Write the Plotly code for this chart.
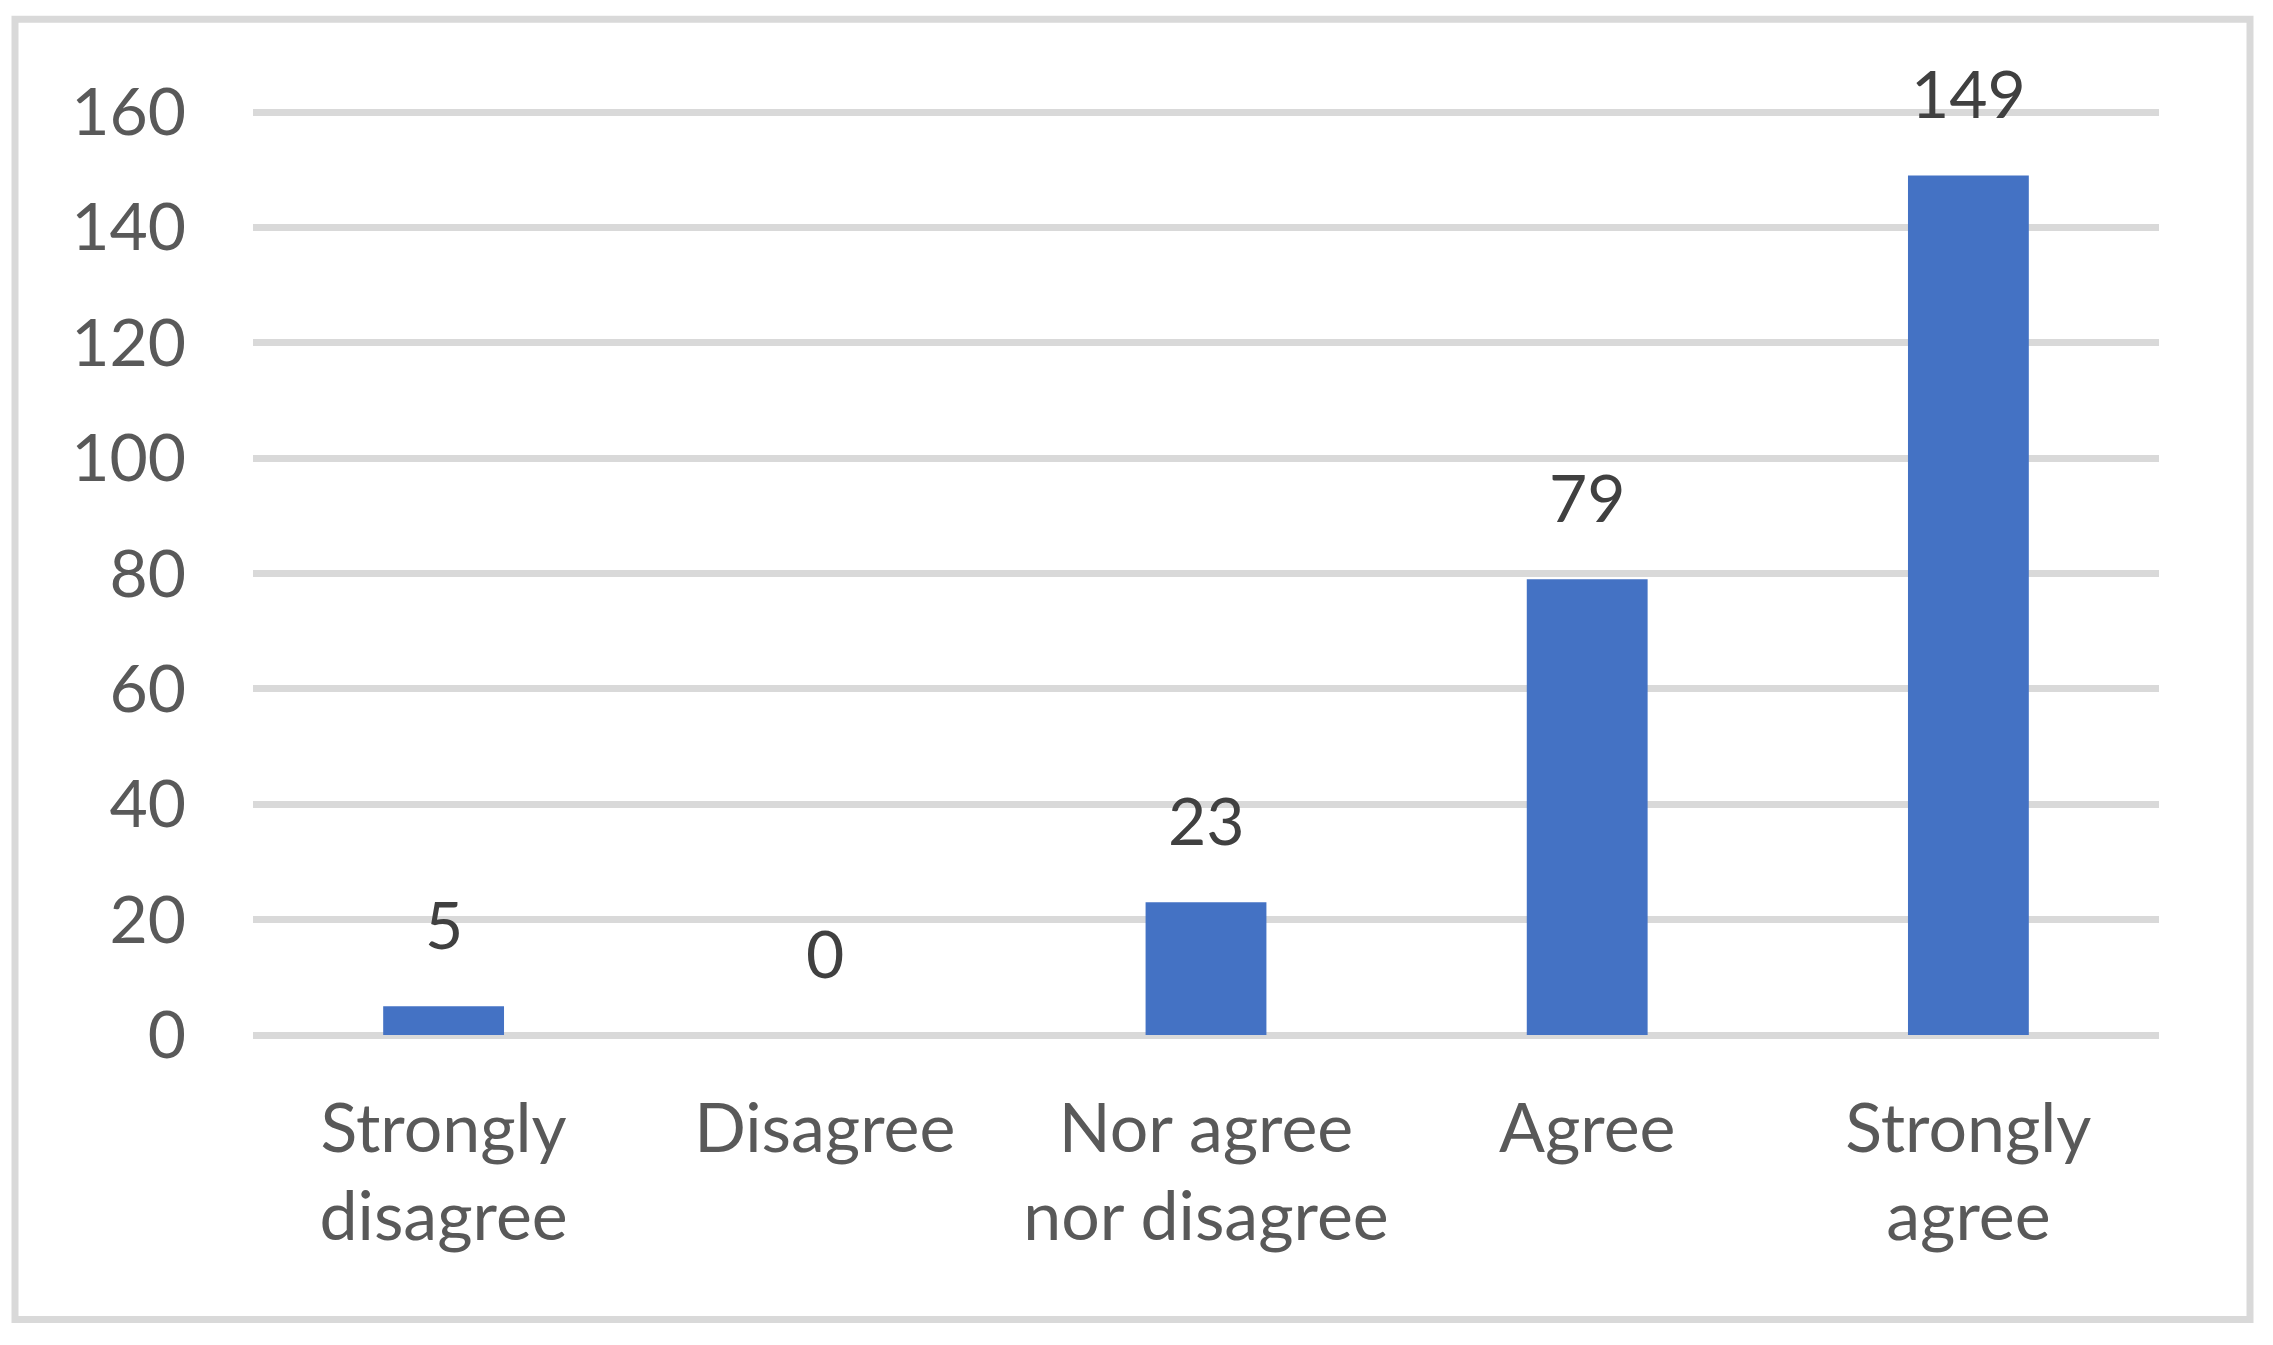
import plotly.graph_objects as go

categories = ["Strongly<br>disagree", "Disagree", "Nor agree<br>nor disagree", "Agree", "Strongly<br>agree"]
values = [5, 0, 23, 79, 149]
y_ticks = [0, 20, 40, 60, 80, 100, 120, 140, 160]

W, H = 2273, 1345
OFF = 8  # page body margin
PAD = 3  # extra pixels so edge gridlines get drawn
L, R, T, B = 253 - OFF, 114 + OFF, 112 - OFF - PAD, 310 + OFF - PAD
FONT = "Lato, Carlito, Calibri, sans-serif"
FS = 66
FSX = 68

fig = go.Figure(go.Bar(
    x=categories, y=values,
    marker=dict(color="#4472C4", line=dict(width=0)),
    width=0.317,
    hoverinfo="skip",
))

for c, v in zip(categories, values):
    fig.add_annotation(x=c, y=v, text=str(v), showarrow=False,
                       yanchor="bottom", xanchor="center", yshift=41,
                       font=dict(family=FONT, size=FS, color="#404040"))

pw = W - L - R
ph = H - T - B
def px(x): return (x - OFF - L) / pw
def py(y): return (H - B - (y - OFF)) / ph

fig.add_shape(type="rect", xref="paper", yref="paper",
              x0=px(15), x1=px(2250), y0=py(1319.5), y1=py(19.3),
              line=dict(color="#D9D9D9", width=7), fillcolor="rgba(0,0,0,0)", layer="below")

ext = 160 * PAD / (923.0)
fig.update_layout(
    width=W, height=H,
    margin=dict(l=L, r=R, t=T, b=B, pad=0),
    paper_bgcolor="white", plot_bgcolor="white",
    showlegend=False,
    font=dict(family=FONT, size=FS, color="#595959"),
    xaxis=dict(showgrid=False, showline=False, zeroline=False, ticks="",
               tickfont=dict(family=FONT, size=FSX, color="#595959"),
               ticklabelstandoff=50 - PAD - 2, fixedrange=True),
    yaxis=dict(range=[-ext, 160 + ext], tickvals=y_ticks, ticktext=[str(t) for t in y_ticks],
               showgrid=True, gridcolor="#D9D9D9", gridwidth=7,
               zeroline=False, showline=False, ticks="",
               tickfont=dict(family=FONT, size=FS, color="#595959"),
               ticklabelstandoff=66, fixedrange=True),
)

fig.write_html("out.html")
